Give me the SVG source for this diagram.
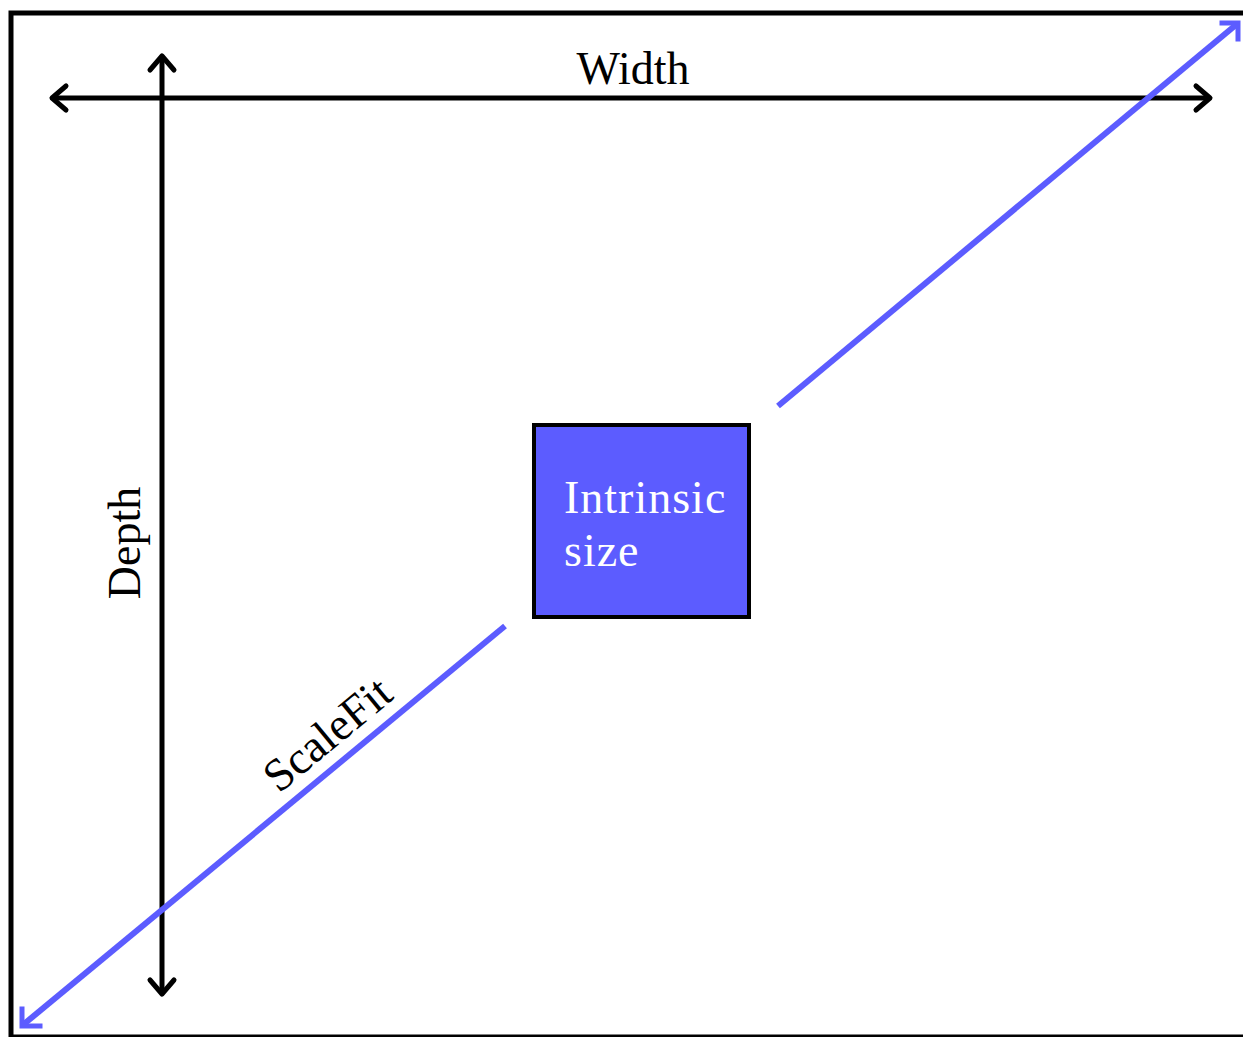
<svg xmlns="http://www.w3.org/2000/svg" width="1243" height="1037" viewBox="0 0 1243 1037">
<style>
.lbl{font-family:"Liberation Serif","Times New Roman",serif;font-size:46px;fill:#000}
.dim{stroke:#000;stroke-width:5;fill:none}
.head{stroke:#000;stroke-width:5;fill:none;stroke-linecap:round;stroke-linejoin:round}
.blue{stroke:#5c5cff;stroke-width:6;fill:none}
.bhead{stroke:#5c5cff;stroke-width:5;fill:none;stroke-linecap:square;stroke-linejoin:miter}
</style>
<rect x="0" y="0" width="1243" height="1037" fill="#fff"/>
<rect id="frame" x="11" y="13" width="1240" height="1024" fill="none" stroke="#000" stroke-width="5"/>
<g id="connectors">
<g id="width-dim">
<line class="dim" x1="52" y1="98" x2="1210" y2="98"/>
<polyline class="head" points="66,86 52,98 66,110"/>
<polyline class="head" points="1196,86 1210,98 1196,110"/>
</g>
<g id="depth-dim">
<line class="dim" x1="162" y1="56" x2="162" y2="994"/>
<polyline class="head" points="150,70 162,56 174,70"/>
<polyline class="head" points="150,980 162,994 174,980"/>
</g>
<g id="scalefit">
<line class="blue" x1="778" y1="406" x2="1237" y2="24"/>
<line class="blue" x1="505" y1="626" x2="24" y2="1024"/>
<polyline class="bhead" points="1222,23 1238,23 1238,39"/>
<polyline class="bhead" points="22,1009 22,1026 40,1026"/>
</g>
</g>
<g id="intrinsic">
<rect x="534" y="425" width="215" height="192" fill="#5c5cff" stroke="#000" stroke-width="4"/>
<text class="lbl" x="564" y="513" style="fill:#fff;letter-spacing:1px">Intrinsic</text>
<text class="lbl" x="564" y="566" style="fill:#fff;letter-spacing:1px">size</text>
</g>
<text id="width-label" class="lbl" x="633" y="84" text-anchor="middle">Width</text>
<text id="depth-label" class="lbl" transform="translate(140,543) rotate(-90)" text-anchor="middle">Depth</text>
<text id="scalefit-label" class="lbl" transform="translate(337,746) rotate(-39.6)" text-anchor="middle">ScaleFit</text>
</svg>
